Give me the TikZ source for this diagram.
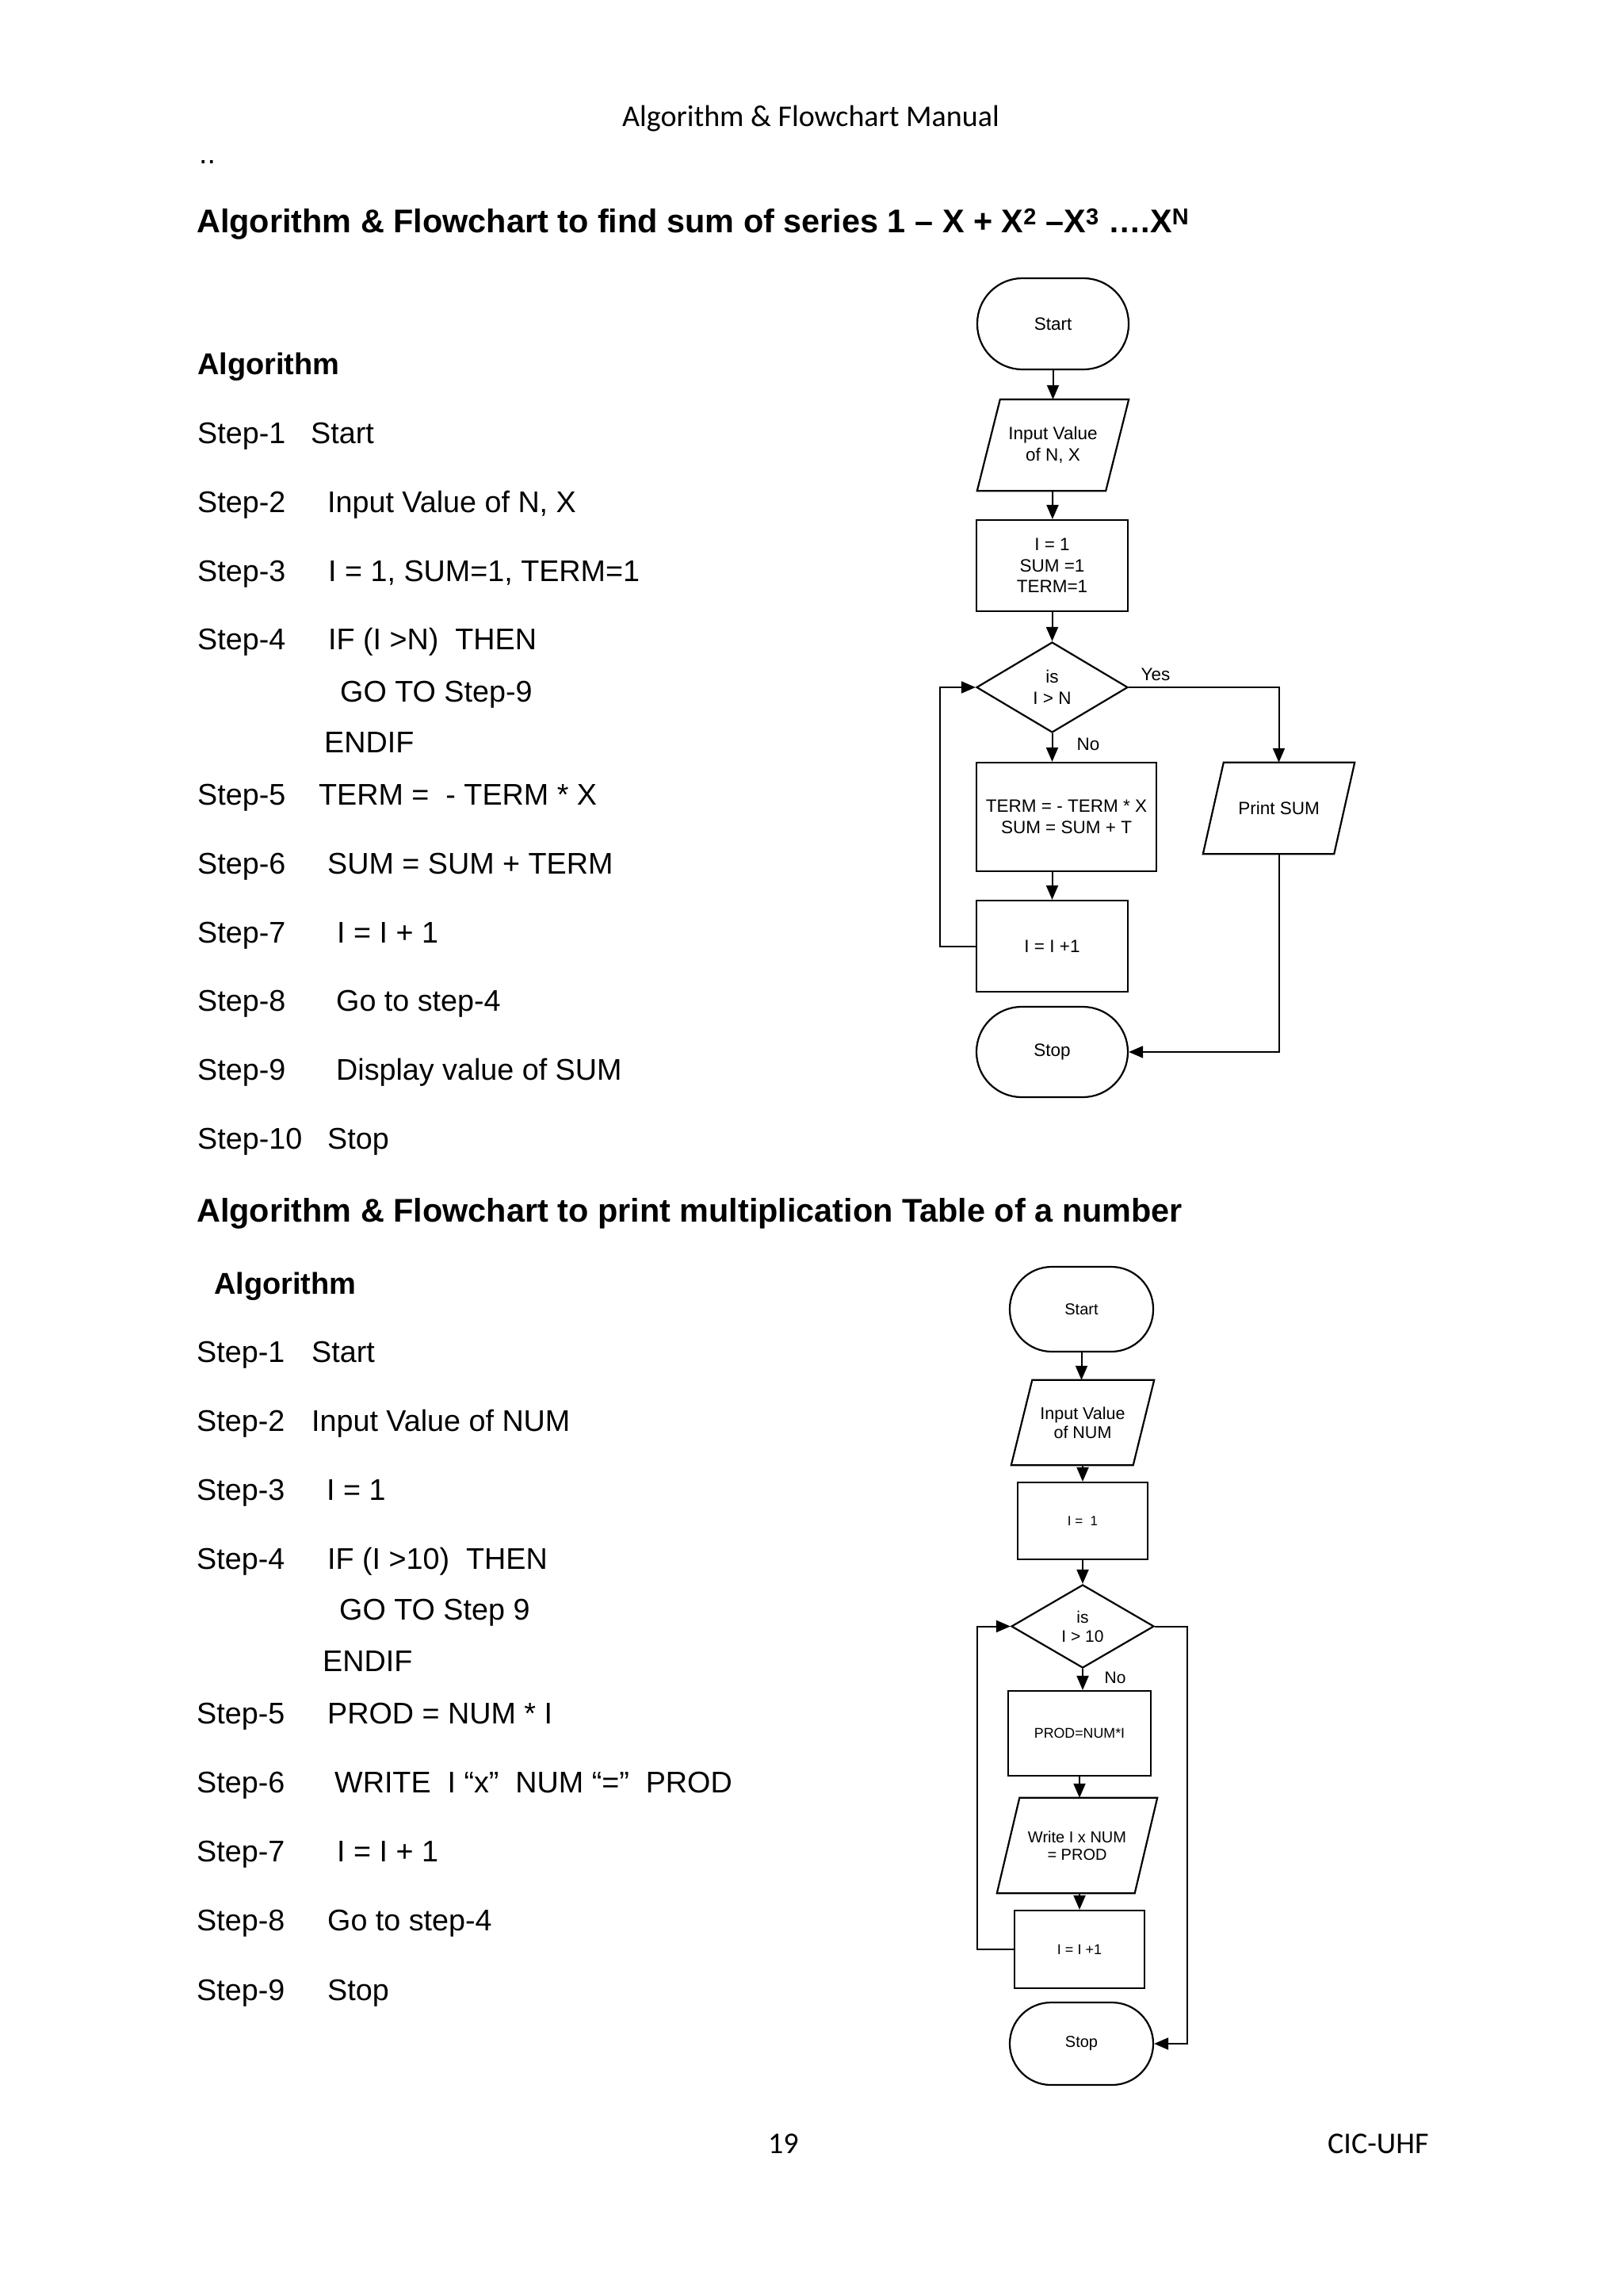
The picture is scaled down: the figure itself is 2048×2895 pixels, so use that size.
\documentclass[tikz,border=0pt]{standalone}
\usepackage{fontspec}
\setmainfont{Liberation Sans}
\newfontfamily\calfont{Carlito}
\usetikzlibrary{arrows.meta,shapes.geometric}

\tikzset{
  body/.style={anchor=base west,inner sep=0,font=\fontsize{37.7}{45}\selectfont},
  bodybf/.style={anchor=base west,inner sep=0,font=\fontsize{38}{45}\selectfont\bfseries},
  titl/.style={anchor=base west,inner sep=0,font=\fontsize{41.4}{49}\selectfont\bfseries},
  cal/.style={inner sep=0,font=\calfont\fontsize{38}{45}\selectfont},
  fbox/.style={draw,line width=2.2pt,rectangle,inner sep=0,align=center},
  fterm/.style={fbox,rounded corners=52pt},
  fio/.style={rectangle,inner sep=0,align=center,
    append after command={\pgfextra{\draw[line width=2.2pt,line join=miter]
      ([xshift=#1]\tikzlastnode.north west) -- (\tikzlastnode.north east)
      -- ([xshift=-#1]\tikzlastnode.south east) -- (\tikzlastnode.south west) -- cycle;}}},
  fdec/.style={draw,line width=2.2pt,shape=diamond,aspect=1.7,inner sep=0,align=center},
  flow/.style={line width=2pt,-{Triangle[length=18pt,width=15pt]}},
  ftxt/.style={inner sep=0,font=\fontsize{22.5}{26.5}\selectfont}
}

\begin{document}
\begin{tikzpicture}[x=1pt,y=-1pt]
\useasboundingbox[fill=white] (0,0) rectangle (2048,2895);

% ---------------- page head ----------------
\node[cal,anchor=base] (head) at (1023,160) {Algorithm \& Flowchart Manual};
\node[body] (dots) at (251,207) {..};

% ---------------- series: algorithm ----------------
\node[titl] (title1) at (248,293)
  {Algorithm \& Flowchart to find sum of series 1 – X + X\textsuperscript{2} –X\textsuperscript{3} ….X\textsuperscript{N}};
\node[bodybf] (alg1) at (249,472) {Algorithm};
\node[body] (a1) at (249,559) {Step-1};   \node[body] (b1) at (392,559) {Start};
\node[body] (a2) at (249,646) {Step-2};   \node[body] (b2) at (413,646) {Input Value of N, X};
\node[body] (a3) at (249,733) {Step-3};   \node[body] (b3) at (414,733) {I = 1, SUM=1, TERM=1};
\node[body] (a4) at (249,819) {Step-4};   \node[body] (b4) at (414,819) {IF (I >N)\ \ THEN};
\node[body] (b4g) at (429,885) {GO TO Step-9};
\node[body] (b4e) at (409,949) {ENDIF};
\node[body] (a5) at (249,1015) {Step-5};  \node[body] (b5) at (402,1015) {TERM =\ \ - TERM * X};
\node[body] (a6) at (249,1102) {Step-6};  \node[body] (b6) at (413,1102) {SUM = SUM + TERM};
\node[body] (a7) at (249,1189) {Step-7};  \node[body] (b7) at (425,1189) {I = I + 1};
\node[body] (a8) at (249,1275) {Step-8};  \node[body] (b8) at (424,1275) {Go to step-4};
\node[body] (a9) at (249,1362) {Step-9};  \node[body] (b9) at (424,1362) {Display value of SUM};
\node[body] (a10) at (249,1449) {Step-10}; \node[body] (b10) at (413,1449) {Stop};

% ---------------- series: flowchart ----------------
\node[fterm,minimum width=191,minimum height=115,rounded corners=57pt,ftxt] (start1) at (1328.5,408.5) {Start};
\node[fio=29pt,minimum width=191,minimum height=115,ftxt] (inp1) at (1328.5,561.5) {Input Value\\of N, X};
\node[fbox,minimum width=191,minimum height=115,ftxt] (init1) at (1327.5,713.5) {I = 1\\SUM =1\\TERM=1};
\node[fdec,minimum width=191,minimum height=114,ftxt] (dec1) at (1327.5,867) {is\\I > N};
\node[fbox,minimum width=227,minimum height=137,ftxt] (calc1) at (1345.5,1030.5) {TERM = - TERM * X\\SUM = SUM + T};
\node[fbox,minimum width=191,minimum height=115,ftxt] (inc1) at (1327.5,1193.5) {I = I +1};
\node[fterm,minimum width=191,minimum height=114,rounded corners=57pt,ftxt] (stop1) at (1327.5,1327) {Stop};
\node[fio=26pt,minimum width=191,minimum height=115,ftxt] (prt1) at (1613.5,1019.5) {Print SUM};
\node[ftxt] (yes1) at (1458,851) {Yes};
\node[ftxt] (no1) at (1373,939) {No};
\coordinate (lbus1) at (1186,0);

\draw[flow] (start1) -- (inp1);
\draw[flow] (inp1) -- (init1);
\draw[flow] (init1) -- (dec1);
\draw[flow] (dec1.south) -- (dec1.south |- calc1.north);
\draw[flow] (inc1.north |- calc1.south) -- (inc1.north);
\draw[flow] (inc1.west) -- (inc1.west -| lbus1) |- (dec1.west);
\draw[flow] (dec1.east) -| (prt1.north);
\draw[flow] (prt1.south) |- (stop1.east);

% ---------------- table: algorithm ----------------
\node[titl] (title2) at (248,1541) {Algorithm \& Flowchart to print multiplication Table of a number};
\node[bodybf] (alg2) at (270,1632) {Algorithm};
\node[body] (c1) at (248,1718) {Step-1};  \node[body] (d1) at (393,1718) {Start};
\node[body] (c2) at (248,1805) {Step-2};  \node[body] (d2) at (393,1805) {Input Value of NUM};
\node[body] (c3) at (248,1892) {Step-3};  \node[body] (d3) at (412,1892) {I = 1};
\node[body] (c4) at (248,1979) {Step-4};  \node[body] (d4) at (413,1979) {IF (I >10)\ \ THEN};
\node[body] (d4g) at (428,2043) {GO TO Step 9};
\node[body] (d4e) at (407,2108) {ENDIF};
\node[body] (c5) at (248,2174) {Step-5};  \node[body] (d5) at (413,2174) {PROD = NUM * I};
\node[body] (c6) at (248,2261) {Step-6};  \node[body] (d6) at (422,2261) {WRITE\ \ I “x”\ \ NUM “=”\ \ PROD};
\node[body] (c7) at (248,2348) {Step-7};  \node[body] (d7) at (425,2348) {I = I + 1};
\node[body] (c8) at (248,2435) {Step-8};  \node[body] (d8) at (413,2435) {Go to step-4};
\node[body] (c9) at (248,2523) {Step-9};  \node[body] (d9) at (413,2523) {Stop};

% ---------------- table: flowchart ----------------
\node[fterm,minimum width=181,minimum height=107,rounded corners=53pt,font=\fontsize{20}{23}\selectfont] (start2) at (1364.5,1651.5) {Start};
\node[fio=26.5pt,minimum width=180,minimum height=107,font=\fontsize{21.5}{24}\selectfont] (inp2) at (1366,1794.5) {Input Value\\of NUM};
\node[fbox,minimum width=164,minimum height=97,font=\fontsize{17}{20}\selectfont] (init2) at (1366,1918.5) {I =\ \ 1};
\node[fdec,minimum width=180,minimum height=105,font=\fontsize{21}{24}\selectfont] (dec2) at (1366,2051.5) {is\\I > 10};
\node[fbox,minimum width=180,minimum height=107,font=\fontsize{17.8}{21}\selectfont] (prod2) at (1362,2186.5) {PROD=NUM*I};
\node[fio=28.5pt,minimum width=202,minimum height=120,font=\fontsize{20}{22}\selectfont] (wrt2) at (1359,2328) {Write I x NUM\\= PROD};
\node[fbox,minimum width=164,minimum height=98,font=\fontsize{18}{21}\selectfont] (inc2) at (1362,2459) {I = I +1};
\node[fterm,minimum width=181,minimum height=104,rounded corners=52pt,font=\fontsize{20}{23}\selectfont] (stop2) at (1364.5,2578) {Stop};
\node[inner sep=0,font=\fontsize{21}{24}\selectfont] (no2) at (1407,2116) {No};
\coordinate (lbus2) at (1233,0);
\coordinate (rbus2) at (1498,0);

\draw[flow] (start2) -- (start2.south |- inp2.north);
\draw[flow] (inp2) -- (init2);
\draw[flow] (init2) -- (dec2);
\draw[flow] (dec2.south) -- (dec2.south |- prod2.north);
\draw[flow] (prod2.south) -- (prod2.south |- wrt2.north);
\draw[flow] (inc2.north |- wrt2.south) -- (inc2.north);
\draw[flow] (inc2.west) -- (inc2.west -| lbus2) |- (dec2.west);
\draw[flow] (dec2.east) -- (dec2.east -| rbus2) |- (stop2.east);

% ---------------- page foot ----------------
\node[cal,anchor=base west] (pgno) at (969,2716) {19};
\node[cal,anchor=base west] (org) at (1675,2716) {CIC-UHF};
\end{tikzpicture}
\end{document}
